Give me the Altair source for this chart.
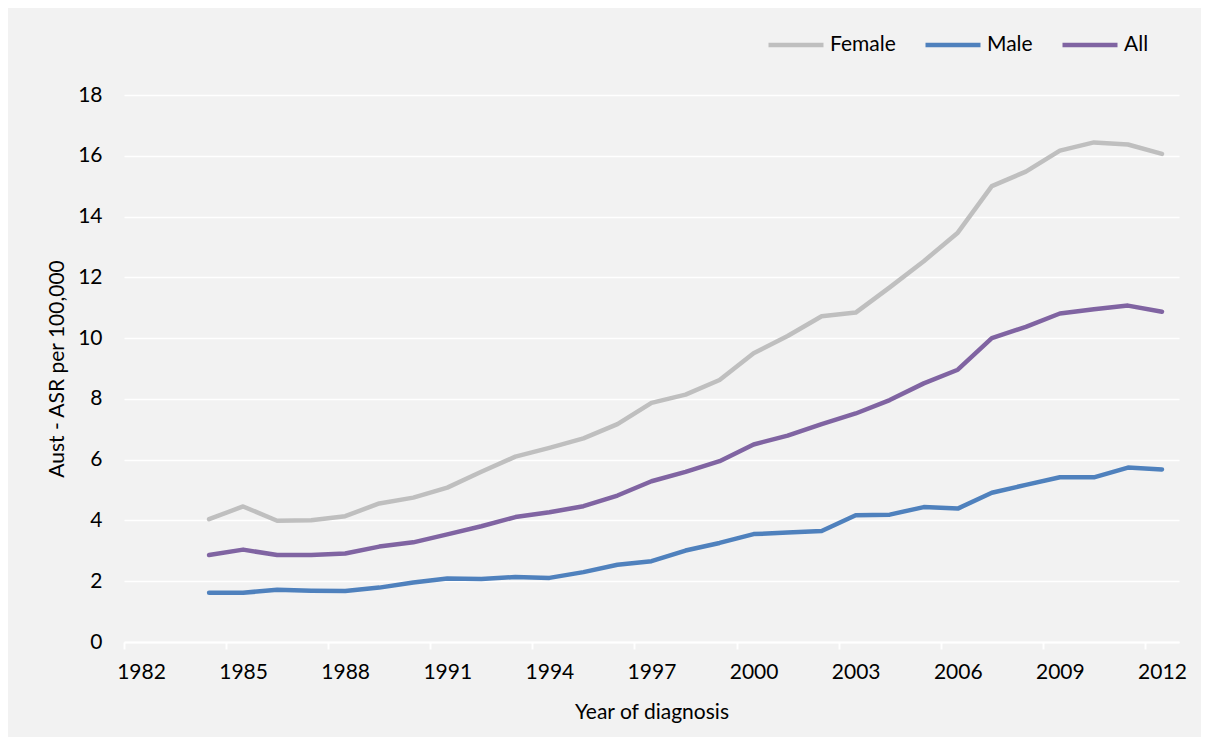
import altair as alt
import pandas as pd

years = list(range(1984, 2013))
female = [4.04, 4.46, 3.99, 4.01, 4.14, 4.56, 4.75, 5.08, 5.60, 6.10, 6.39, 6.70, 7.17, 7.87,
          8.14, 8.62, 9.50, 10.07, 10.72, 10.84, 11.67, 12.53, 13.47, 15.00, 15.48, 16.17,
          16.44, 16.37, 16.06]
male = [1.62, 1.62, 1.72, 1.69, 1.68, 1.79, 1.96, 2.09, 2.07, 2.14, 2.11, 2.30, 2.54, 2.66,
        3.01, 3.26, 3.55, 3.60, 3.65, 4.17, 4.19, 4.44, 4.39, 4.91, 5.17, 5.42, 5.42, 5.74, 5.68]
all_ = [2.86, 3.04, 2.86, 2.86, 2.91, 3.14, 3.28, 3.54, 3.81, 4.11, 4.27, 4.47, 4.82, 5.29,
        5.60, 5.95, 6.50, 6.79, 7.17, 7.52, 7.96, 8.51, 8.96, 10.00, 10.37, 10.81, 10.95,
        11.07, 10.87]

series = ["Female", "Male", "All"]
colors = ["#BFBFBF", "#4F81BD", "#8064A2"]
x_tick_years = list(range(1982, 2013, 3))
y_ticks = list(range(0, 19, 2))

rows = []
for name, vals in zip(series, [female, male, all_]):
    for yr, v in zip(years, vals):
        rows.append({"year": yr, "value": v, "series": name})
df = pd.DataFrame(rows)

FONT = "Lato"
FS = 21

chart = alt.Chart(df).transform_calculate(
    mid="datum.year + 0.5"
).mark_line(strokeWidth=4.5, strokeCap="round", strokeJoin="round").encode(
    x=alt.X("mid:Q",
            scale=alt.Scale(domain=[1982, 2013], nice=False, zero=False),
            axis=alt.Axis(values=x_tick_years, format="d", title="Year of diagnosis",
                          grid=False, domain=True, domainColor="white", domainWidth=2,
                          ticks=True, tickColor="white", tickSize=7, tickWidth=2,
                          labelOffset=17, labelFlush=False, labelPadding=12,
                          labelFontSize=FS, labelFont=FONT, labelColor="black",
                          titleFont=FONT, titleFontSize=FS, titleFontWeight="normal",
                          titleColor="black", titleX=527.5, titleY=70,
                          titleBaseline="middle", titleAlign="center")),
    y=alt.Y("value:Q",
            scale=alt.Scale(domain=[0, 18], nice=False),
            axis=alt.Axis(values=y_ticks, title="Aust - ASR per 100,000",
                          grid=True, gridColor="white", gridWidth=1.5,
                          domain=False, ticks=False, tickSize=0, labelPadding=22,
                          labelFontSize=FS, labelFont=FONT, labelColor="black",
                          titleFont=FONT, titleFontSize=FS, titleFontWeight="normal",
                          titleColor="black", titleX=-67, titleY=273.5,
                          titleAngle=-90, titleBaseline="middle", titleAlign="center")),
    color=alt.Color("series:N",
                    scale=alt.Scale(domain=series, range=colors),
                    sort=series,
                    legend=alt.Legend(title=None, orient="none", direction="horizontal",
                                      legendX=642, legendY=-80, symbolType="stroke",
                                      symbolSize=3025, symbolStrokeWidth=4.5,
                                      labelFont=FONT, labelFontSize=FS, labelColor="black",
                                      labelOffset=4, columnPadding=20, padding=0)),
    order=alt.Order("year:Q"),
).properties(
    width=1055, height=547,
    autosize=alt.AutoSizeParams(type="none"),
    padding={"left": 116, "top": 87, "right": 22, "bottom": 95},
    background="#F2F2F2",
).configure_view(stroke=None)

chart.save("out.html", embed_options={"renderer": "svg", "actions": False})
